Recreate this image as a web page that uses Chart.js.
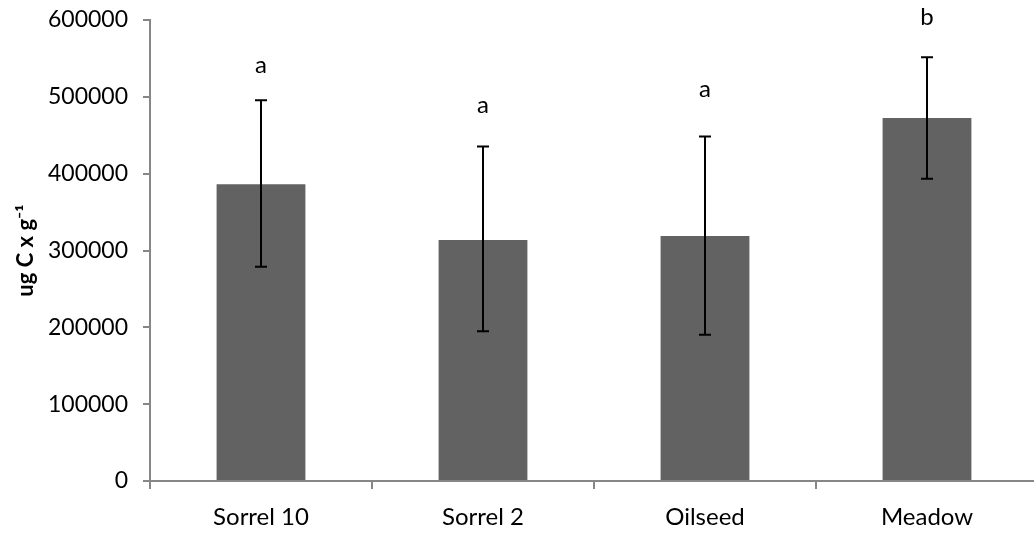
<!DOCTYPE html>
<html>
<head>
<meta charset="utf-8">
<script src="https://cdn.jsdelivr.net/npm/chart.js@4/dist/chart.umd.min.js"></script>
<style>
  html, body { margin: 0; padding: 0; background: #fff; overflow: hidden; }
  #wrap { width: 1040px; height: 535px; position: relative; }
</style>
</head>
<body>
<div id="wrap"><canvas id="c"></canvas></div>
<script>
const categories = ["Sorrel 10", "Sorrel 2", "Oilseed", "Meadow"];
const means = [386300, 313700, 318900, 472400];
const errorHigh = [495400, 435400, 448400, 551500];
const errorLow = [278900, 195000, 190200, 393300];
const letters = ["a", "a", "a", "b"];
const letterPos = [541000, 489000, 510000, 604000];
const yTicks = [0, 100000, 200000, 300000, 400000, 500000, 600000];

const axisColor = "#878787";
const fontFam = "Lato, 'Open Sans', sans-serif";

const errorBarPlugin = {
  id: "errorBars",
  afterDatasetsDraw(chart) {
    const ctx = chart.ctx;
    const meta = chart.getDatasetMeta(0);
    const y = chart.scales.y;
    ctx.save();
    ctx.strokeStyle = "#000";
    ctx.lineWidth = 2;
    meta.data.forEach((bar, i) => {
      const x = bar.x;
      const yh = y.getPixelForValue(errorHigh[i]);
      const yl = y.getPixelForValue(errorLow[i]);
      ctx.beginPath();
      ctx.moveTo(x, yh); ctx.lineTo(x, yl);
      ctx.moveTo(x - 6, yh); ctx.lineTo(x + 6, yh);
      ctx.moveTo(x - 6, yl); ctx.lineTo(x + 6, yl);
      ctx.stroke();
    });
    ctx.fillStyle = "#000";
    ctx.font = "24px " + fontFam;
    ctx.textAlign = "center";
    ctx.textBaseline = "middle";
    meta.data.forEach((bar, i) => {
      ctx.fillText(letters[i], bar.x, y.getPixelForValue(letterPos[i]));
    });
    ctx.restore();
  }
};

new Chart(document.getElementById("c"), {
  type: "bar",
  data: {
    labels: categories,
    datasets: [{
      data: means,
      backgroundColor: "#626262",
      borderWidth: 0,
      categoryPercentage: 1.0,
      barPercentage: 0.4
    }]
  },
  options: {
    responsive: true,
    maintainAspectRatio: false,
    animation: false,
    layout: { padding: { left: 8, top: 20, right: 2, bottom: 0 } },
    plugins: { legend: { display: false }, tooltip: { enabled: false } },
    scales: {
      x: {
        grid: { display: true, drawOnChartArea: false, drawTicks: true, tickLength: 8, color: axisColor, lineWidth: 2, offset: true },
        border: { display: true, color: axisColor, width: 2 },
        ticks: { color: "#000", font: { family: fontFam, size: 24 }, padding: 14 },
        afterFit(scale) { scale.height = 54; }
      },
      y: {
        min: 0,
        max: 600000,
        afterBuildTicks(scale) { scale.ticks = yTicks.map(v => ({ value: v })); },
        grid: { display: true, drawOnChartArea: false, drawTicks: true, tickLength: 7, color: axisColor, lineWidth: 2 },
        border: { display: true, color: axisColor, width: 2 },
        ticks: { color: "#000", font: { family: fontFam, size: 23 }, padding: 15, callback: v => String(v) },
        title: {
          display: true,
          text: "ug C x g\u207B\u00B9",
          color: "#000",
          font: { family: fontFam, size: 22, weight: "bold" },
          padding: { top: 5, bottom: 10 }
        },
        afterFit(scale) {
          scale.width = 142;
          scale.paddingTop = 12;
          scale.paddingBottom = 12;
        }
      }
    }
  },
  plugins: [errorBarPlugin]
});
</script>
</body>
</html>
